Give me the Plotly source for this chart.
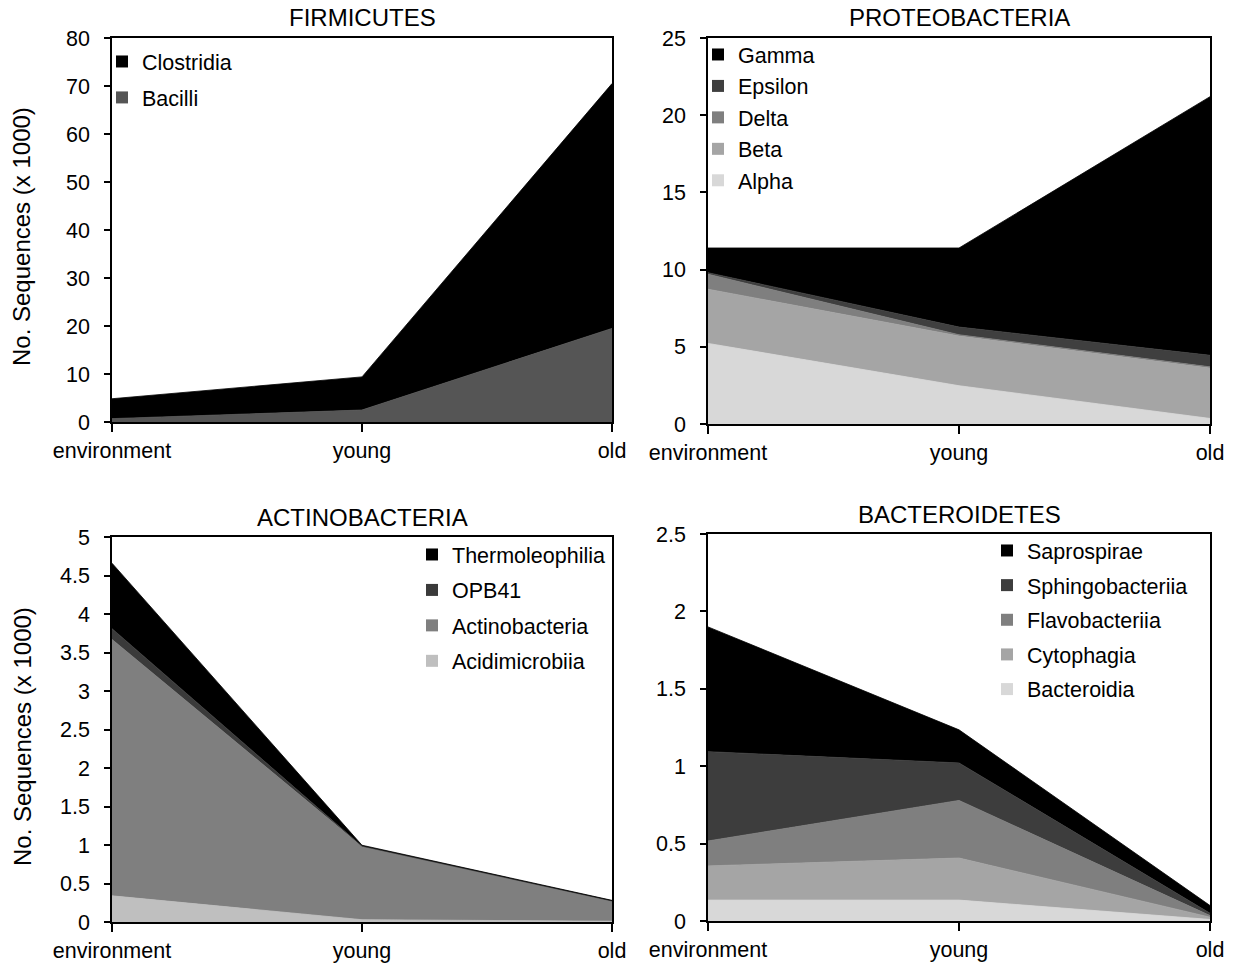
import plotly.graph_objects as go

stages = ["environment", "young", "old"]
xpos = [0, 1, 2]

# Panel 1: FIRMICUTES (bottom -> top)
firm_names = ["Bacilli", "Clostridia"]
bacilli = [0.7, 2.5, 19.5]
clostridia = [4.15, 6.9, 51.0]

# Panel 2: PROTEOBACTERIA (bottom -> top)
prot_names = ["Alpha", "Beta", "Delta", "Epsilon", "Gamma"]
alpha = [5.22, 2.48, 0.36]
beta = [3.51, 3.22, 3.26]
delta = [0.97, 0.08, 0.08]
epsilon = [0.10, 0.50, 0.75]
gamma = [1.60, 5.12, 16.75]

# Panel 3: ACTINOBACTERIA (bottom -> top)
act_names = ["Acidimicrobiia", "Actinobacteria", "OPB41", "Thermoleophilia"]
acidimicrobiia = [0.34, 0.03, 0.01]
actinobacteria = [3.33, 0.95, 0.26]
opb41 = [0.14, 0.005, 0.003]
thermoleophilia = [0.85, 0.012, 0.008]

# Panel 4: BACTEROIDETES (bottom -> top)
bact_names = ["Bacteroidia", "Cytophagia", "Flavobacteriia", "Sphingobacteriia", "Saprospirae"]
bacteroidia = [0.135, 0.135, 0.01]
cytophagia = [0.221, 0.272, 0.015]
flavobacteriia = [0.161, 0.372, 0.01]
sphingobacteriia = [0.577, 0.242, 0.015]
saprospirae = [0.806, 0.214, 0.05]

FONT = "Liberation Sans, Arial, Helvetica, sans-serif"
FS = 21.5
TFS = 24

panels = [
    dict(title="FIRMICUTES", names=firm_names, series=[bacilli, clostridia],
         colors=["#555555", "#000000"], xa="x", ya="y", legend="legend",
         yrange=[0, 80], dtick=10),
    dict(title="PROTEOBACTERIA", names=prot_names, series=[alpha, beta, delta, epsilon, gamma],
         colors=["#d8d8d8", "#a5a5a5", "#7f7f7f", "#3f3f3f", "#000000"], xa="x2", ya="y2",
         legend="legend2", yrange=[0, 25], dtick=5),
    dict(title="ACTINOBACTERIA", names=act_names,
         series=[acidimicrobiia, actinobacteria, opb41, thermoleophilia],
         colors=["#bfbfbf", "#7f7f7f", "#3a3a3a", "#000000"], xa="x3", ya="y3",
         legend="legend3", yrange=[0, 5], dtick=0.5),
    dict(title="BACTEROIDETES", names=bact_names,
         series=[bacteroidia, cytophagia, flavobacteriia, sphingobacteriia, saprospirae],
         colors=["#d8d8d8", "#a5a5a5", "#7f7f7f", "#3d3d3d", "#000000"], xa="x4", ya="y4",
         legend="legend4", yrange=[0, 2.5], dtick=0.5),
]

fig = go.Figure()
for i, p in enumerate(panels):
    for name, vals, col in zip(p["names"], p["series"], p["colors"]):
        fig.add_trace(go.Scatter(
            x=xpos, y=vals, xaxis=p["xa"], yaxis=p["ya"], stackgroup=f"s{i}",
            mode="lines", line=dict(width=0.8, color=col), fillcolor=col,
            showlegend=False, hoverinfo="skip", name=name))
    # legend entries (top first)
    for k, (name, col) in enumerate(reversed(list(zip(p["names"], p["colors"])))):
        fig.add_trace(go.Scatter(
            x=[None], y=[None], xaxis=p["xa"], yaxis=p["ya"], mode="markers",
            marker=dict(symbol="square", size=12, color=col),
            name=name, legend=p["legend"], legendgroup=f"g{i}_{k}", showlegend=True))

W, H = 1236, 965
def xd(a, b):
    return [a / W, b / W]
def yd(top, bottom):
    return [1 - bottom / H, 1 - top / H]

ax_common = dict(showline=True, linecolor="black", linewidth=1.5, mirror=True,
                 ticks="outside", tickcolor="black", tickwidth=1.5,
                 tickfont=dict(family=FONT, size=FS, color="black"),
                 showgrid=False, zeroline=False, fixedrange=True, automargin=False)

layout = dict(
    width=W, height=H, margin=dict(l=0, r=0, t=0, b=0, autoexpand=False),
    paper_bgcolor="white", plot_bgcolor="white",
    font=dict(family=FONT, size=FS, color="black"),
    showlegend=True,
)

xdoms = [xd(112, 612), xd(708, 1210), xd(112, 612), xd(708, 1210)]
ydoms = [yd(38, 422), yd(38, 424), yd(537, 922), yd(534, 921)]
ids = ["", "2", "3", "4"]
for i, p in enumerate(panels):
    s = ids[i]
    layout["xaxis" + s] = dict(ax_common, domain=xdoms[i], range=[0, 2], tickvals=xpos,
                               ticktext=stages, ticklen=8, anchor="y" + s)
    layout["yaxis" + s] = dict(ax_common, domain=ydoms[i], range=p["yrange"], dtick=p["dtick"],
                               tick0=0, ticklen=6, ticklabelstandoff=10, anchor="x" + s)

leg_common = dict(xanchor="left", yanchor="top", bgcolor="rgba(0,0,0,0)",
                  font=dict(family=FONT, size=FS, color="black"),
                  traceorder="grouped", itemwidth=30)
layout["legend"] = dict(leg_common, x=102 / W, y=1 - 41 / H, tracegroupgap=5)
layout["legend2"] = dict(leg_common, x=698 / W, y=1 - 34 / H, tracegroupgap=0.5)
layout["legend3"] = dict(leg_common, x=412 / W, y=1 - 534 / H, tracegroupgap=4.5)
layout["legend4"] = dict(leg_common, x=987 / W, y=1 - 530 / H, tracegroupgap=3.7)

centers = [(362, 18), (959, 18), (362, 517), (959, 514)]
annotations = [
    dict(text=p["title"], x=cx / W, y=1 - cy / H, xref="paper", yref="paper",
         xanchor="center", yanchor="middle", showarrow=False,
         font=dict(family=FONT, size=TFS, color="black"))
    for p, (cx, cy) in zip(panels, centers)
]
for cy in (237, 737):
    annotations.append(dict(text="No. Sequences (x 1000)", x=22 / W, y=1 - cy / H,
                            xref="paper", yref="paper", xanchor="center", yanchor="middle",
                            textangle=-90, showarrow=False,
                            font=dict(family=FONT, size=TFS, color="black")))
layout["annotations"] = annotations

fig.update_layout(**layout)
fig.write_html("out.html")
